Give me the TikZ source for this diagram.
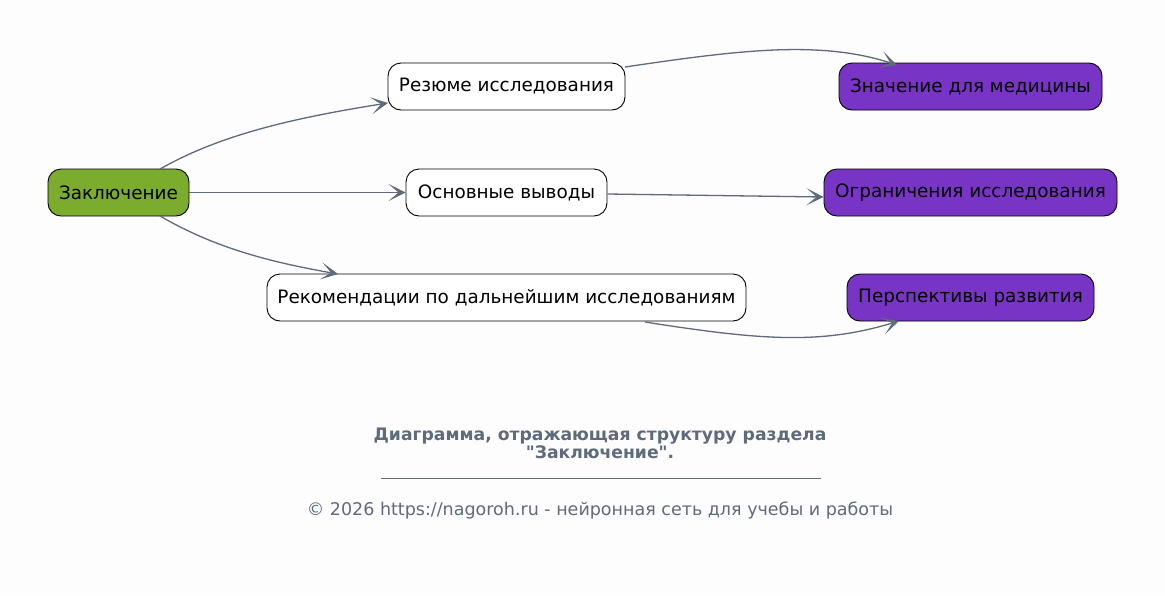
\documentclass[tikz,border=0pt]{standalone}
\usepackage{fontspec}
\setmainfont{DejaVu Sans}[Ligatures=TeXOff]
\usetikzlibrary{arrows.meta}
\definecolor{bg}{HTML}{FDFDFD}
\definecolor{edgec}{HTML}{5D6B7A}
\definecolor{greenf}{HTML}{7CAC2E}
\definecolor{purplef}{HTML}{7834C4}
\definecolor{foot}{HTML}{5D6B7B}
\tikzset{
  box/.style={draw=black, line width=0.9pt, rounded corners=13pt, minimum height=47pt, inner xsep=10pt, font=\fontsize{18.4}{22}\selectfont, text=black},
  whitebox/.style={box, fill=white},
  greenbox/.style={box, fill=greenf},
  purplebox/.style={box, fill=purplef},
  conn/.style={draw=edgec, line width=1.3pt, -{Stealth[length=17pt,width=17pt,inset=10pt]}},
}
\begin{document}
\begin{tikzpicture}[x=1pt,y=-1pt]
\fill[bg] (0,0) rectangle (1165,595);
\useasboundingbox (0,0) rectangle (1165,595);
\node[greenbox, minimum width=141pt] (z) at (118.5,192.5) {Заключение};
\node[whitebox, minimum width=237pt] (r) at (506.5,86.5) {Резюме исследования};
\node[whitebox, minimum width=201pt] (o) at (506.5,192.5) {Основные выводы};
\node[whitebox, minimum width=479pt] (rk) at (506.5,297.5) {Рекомендации по дальнейшим исследованиям};
\node[purplebox, minimum width=263pt] (zn) at (970.5,86.5) {Значение для медицины};
\node[purplebox, minimum width=293pt] (og) at (970.5,192.5) {Ограничения исследования};
\node[purplebox, minimum width=247pt] (p) at (970.5,297.5) {Перспективы развития};
\coordinate (z1) at (160,169);
\coordinate (z3) at (160,216);
\coordinate (r1) at (388,103);
\coordinate (rk1) at (338,274);
\coordinate (r2) at (625,67);
\coordinate (zn1) at (897,65);
\coordinate (rk2) at (645,322);
\coordinate (p1) at (899,321);
\draw[conn] (z1) .. controls (215,138) and (280,120) .. (r1);
\draw[conn] (z.east) -- (o.west);
\draw[conn] (z3) .. controls (215,248) and (270,262) .. (rk1);
\draw[conn] (r2) .. controls (740,50) and (820,40) .. (zn1);
\draw[conn] (o.east |- 0,194) -- (og.west |- 0,197);
\draw[conn] (rk2) .. controls (760,340) and (820,345) .. (p1);
\node[font=\fontsize{17.2}{18}\selectfont\bfseries, text=foot, align=center] (t) at (600,443) {Диаграмма, отражающая структуру раздела\\"Заключение".};
\node[text=foot] (u) at (601,478) {\rule{440pt}{0.6pt}};
\node[font=\fontsize{17.5}{20}\selectfont, text=foot] (c) at (600,511) {© 2026 https://nagoroh.ru - нейронная сеть для учебы и работы};
\end{tikzpicture}
\end{document}
